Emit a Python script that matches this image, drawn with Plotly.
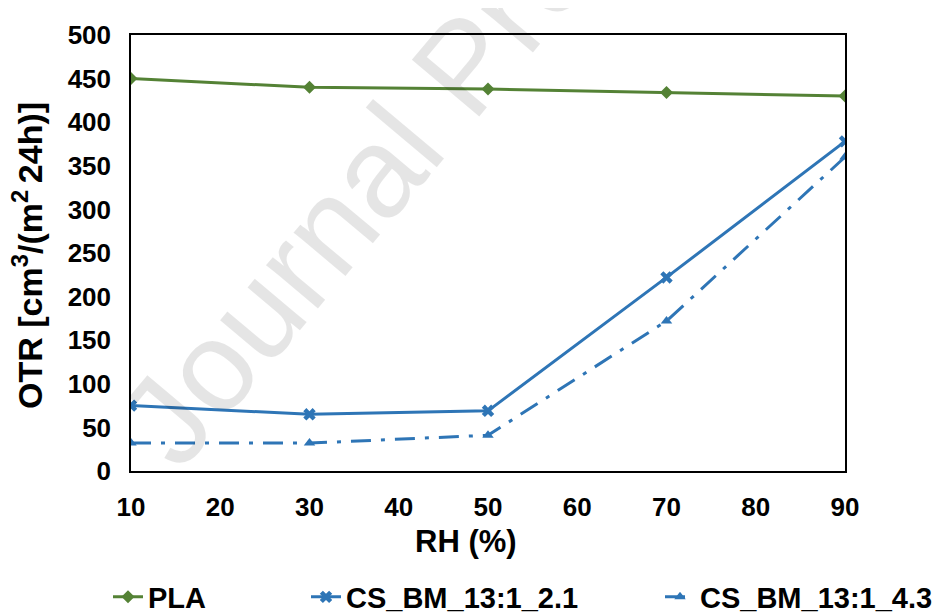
import plotly.graph_objects as go

rh = [10, 30, 50, 70, 90]
pla = [450, 440, 438, 434, 430]
cs_21 = [75, 65, 69, 222, 378]
cs_43 = [32, 32, 41, 172, 360]

names = ["PLA", "CS_BM_13:1_2.1", "CS_BM_13:1_4.3"]
green = "#548235"
blue = "#2E75B6"

FONT = "Liberation Sans, Arial, sans-serif"
OFF = 8  # page body margin offset
W, H = 947 - OFF, 615 - OFF
L, R, T, B = 131 - OFF, 845 - OFF, 25 - OFF, 471 - OFF


def px(xr):
    return (xr - OFF - L) / (R - L)


def py(yr):
    return (B - (yr - OFF)) / (B - T)


fig = go.Figure()
fig.add_trace(go.Scatter(
    x=rh, y=pla, name=names[0], mode="lines+markers",
    line=dict(color=green, width=3),
    marker=dict(symbol="diamond", size=10, color=green),
    legend="legend"))
fig.add_trace(go.Scatter(
    x=rh, y=cs_21, name=names[1], mode="lines+markers",
    line=dict(color=blue, width=3),
    marker=dict(symbol="x", size=11, color=blue),
    legend="legend2"))
fig.add_trace(go.Scatter(
    x=rh, y=cs_43, name=names[2], mode="lines+markers",
    line=dict(color=blue, width=3, dash="20px,10px,4px,10px"),
    marker=dict(symbol="triangle-up", size=10, color=blue),
    legend="legend3"))

leg_common = dict(orientation="h", xref="container", yref="container",
                  yanchor="middle", y=1 - (597 - OFF) / H, xanchor="left",
                  font=dict(family=FONT, size=29, color="black", weight="bold"),
                  bgcolor="rgba(0,0,0,0)")

fig.update_layout(
    width=W, height=H,
    margin=dict(l=L, r=W - R, t=T, b=H - B),
    paper_bgcolor="white", plot_bgcolor="white",
    showlegend=True,
    legend=dict(x=100 / W, **leg_common),
    legend2=dict(x=298 / W, **leg_common),
    legend3=dict(x=652 / W, **leg_common),
    xaxis=dict(range=[10, 90], dtick=10, tick0=10, showgrid=False, zeroline=False,
               showline=True, linecolor="black", linewidth=1.5, mirror=True,
               ticks="", ticklabelstandoff=12,
               tickfont=dict(family=FONT, size=26, color="black", weight="bold")),
    yaxis=dict(range=[0, 500], dtick=50, showgrid=False, zeroline=False,
               showline=True, linecolor="black", linewidth=1.5, mirror=True,
               ticks="", ticklabelstandoff=13,
               tickfont=dict(family=FONT, size=26, color="black", weight="bold")),
    annotations=[
        dict(text="Journal Pre-proof", xref="paper", yref="paper",
             x=px(463), y=py(57), xanchor="center", yanchor="middle", showarrow=False,
             textangle=-50, font=dict(family=FONT, size=128, color="rgba(0,0,0,0.1)")),
        dict(text="RH (%)", xref="paper", yref="paper",
             x=px(466), y=py(543), xanchor="center", yanchor="middle", showarrow=False,
             font=dict(family=FONT, size=31, color="black", weight="bold")),
        dict(text="OTR [cm<sup>3</sup>/(m<sup>2 </sup>24h)]", xref="paper", yref="paper",
             x=px(28), y=py(251), xanchor="center", yanchor="middle", showarrow=False,
             textangle=-90,
             font=dict(family=FONT, size=34, color="black", weight="bold")),
    ],
)

fig.write_html("out.html")
